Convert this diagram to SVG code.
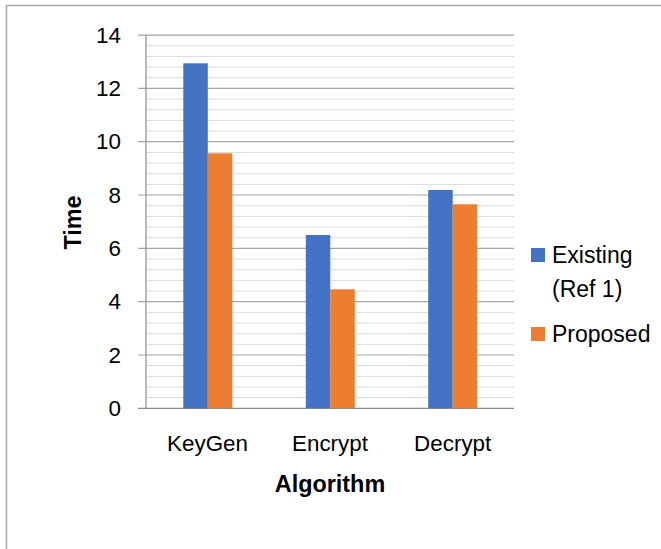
<svg xmlns="http://www.w3.org/2000/svg" width="661" height="549" viewBox="0 0 661 549">
  <style>
    .lbl { font-family: "Liberation Sans", Arial, sans-serif; font-size: 22.4px; fill: #000; }
    .ttl { font-family: "Liberation Sans", Arial, sans-serif; font-size: 23.4px; font-weight: bold; fill: #000; }
    .leg { font-family: "Liberation Sans", Arial, sans-serif; font-size: 23px; fill: #000; }
    .minor { stroke: #d9d9d9; stroke-width: 1; fill: none; }
    .major { stroke: #a6a6a6; stroke-width: 1.2; fill: none; }
    .axis { stroke: #8c8c8c; stroke-width: 1.2; fill: none; }
    .s1 { fill: #4472c4; }
    .s2 { fill: #ed7d31; }
  </style>

  <!-- chart area background and frame (top and left edges visible) -->
  <rect x="0" y="0" width="661" height="549" fill="#ffffff"/>
  <path d="M6.5 549 V5.5 H661" stroke="#a6a6a6" stroke-width="1.5" fill="none"/>

  <!-- minor gridlines, every 0.4 -->
  <g id="minor-grid">
    <path class="minor" d="M146 397.6H514 M146 387H514 M146 376.3H514 M146 365.6H514
      M146 344.3H514 M146 333.7H514 M146 323H514 M146 312.3H514
      M146 291H514 M146 280.3H514 M146 269.7H514 M146 259H514
      M146 237.7H514 M146 227H514 M146 216.4H514 M146 205.7H514
      M146 184.4H514 M146 173.7H514 M146 163H514 M146 152.4H514
      M146 131H514 M146 120.4H514 M146 109.7H514 M146 99H514
      M146 77.7H514 M146 67H514 M146 56.4H514 M146 45.7H514"/>
  </g>

  <!-- major gridlines with outside tick marks, every 2 -->
  <g id="major-grid">
    <path class="major" d="M138 355H514 M138 301.7H514 M138 248.3H514 M138 195H514
      M138 141.7H514 M138 88.4H514 M138 35.1H514"/>
  </g>

  <!-- axes -->
  <g id="axes">
    <path class="axis" d="M146 35.1V408.3"/>
    <path class="axis" d="M138 408.3H514"/>
  </g>

  <!-- bars -->
  <g id="series-existing">
    <rect class="s1" x="183.3" y="63.3" width="24.5" height="345"/>
    <rect class="s1" x="305.8" y="235" width="24.5" height="173.3"/>
    <rect class="s1" x="428.2" y="190" width="24.5" height="218.3"/>
  </g>
  <g id="series-proposed">
    <rect class="s2" x="207.8" y="153.3" width="24.5" height="255"/>
    <rect class="s2" x="330.3" y="289.3" width="24.5" height="119"/>
    <rect class="s2" x="452.7" y="204.3" width="24.5" height="204"/>
  </g>

  <!-- value axis labels -->
  <g id="y-labels" text-anchor="end">
    <text class="lbl" x="121" y="416">0</text>
    <text class="lbl" x="121" y="362.7">2</text>
    <text class="lbl" x="121" y="309.4">4</text>
    <text class="lbl" x="121" y="256">6</text>
    <text class="lbl" x="121" y="202.7">8</text>
    <text class="lbl" x="121" y="149.4">10</text>
    <text class="lbl" x="121" y="96.1">12</text>
    <text class="lbl" x="121" y="42.8">14</text>
  </g>

  <!-- category labels -->
  <g id="x-labels" text-anchor="middle">
    <text class="lbl" x="207.5" y="451">KeyGen</text>
    <text class="lbl" x="330" y="451">Encrypt</text>
    <text class="lbl" x="452.7" y="451">Decrypt</text>
  </g>

  <!-- axis titles -->
  <g id="axis-titles" text-anchor="middle">
    <text class="ttl" x="330" y="492">Algorithm</text>
    <text class="ttl" x="0" y="0" transform="translate(80.7 222.5) rotate(-90)">Time</text>
  </g>

  <!-- legend -->
  <g id="legend">
    <rect class="s1" x="531" y="248" width="14" height="14"/>
    <text class="leg" x="552" y="263.3">Existing</text>
    <text class="leg" x="552" y="296.7">(Ref 1)</text>
    <rect class="s2" x="531" y="327" width="14" height="14"/>
    <text class="leg" x="552" y="341.7">Proposed</text>
  </g>
</svg>
